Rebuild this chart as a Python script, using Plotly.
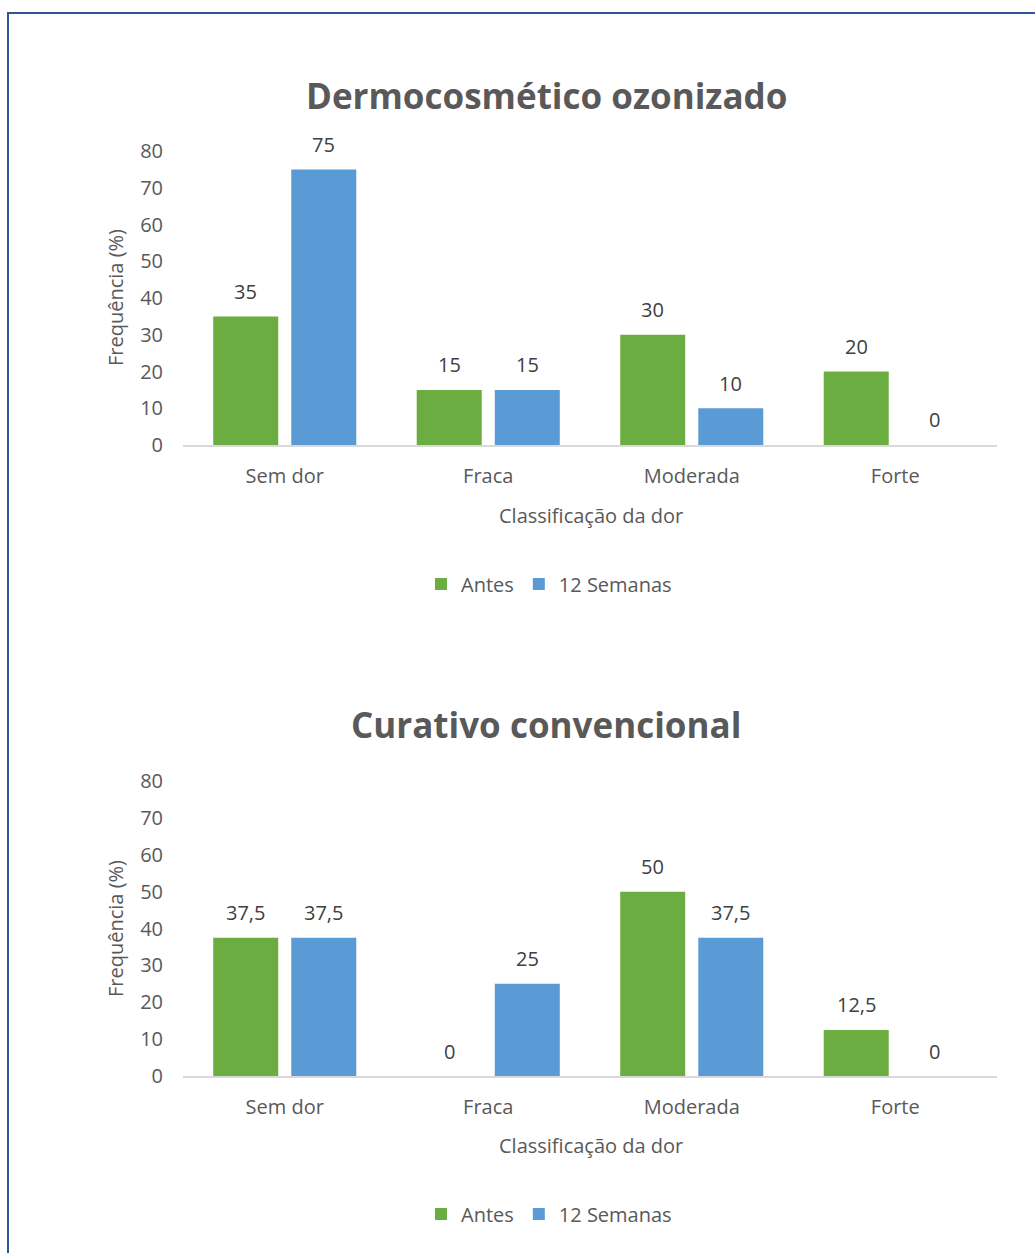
import plotly.graph_objects as go

categories = ["Sem dor", "Fraca", "Moderada", "Forte"]
series_names = ["Antes", "12 Semanas"]
top_antes = [35, 15, 30, 20]
top_12sem = [75, 15, 10, 0]
bot_antes = [37.5, 0, 50, 12.5]
bot_12sem = [37.5, 25, 37.5, 0]
titles = ["Dermocosmético ozonizado", "Curativo convencional"]
y_ticks = [0, 10, 20, 30, 40, 50, 60, 70, 80]

W, H = 1035, 1253
GREEN = "#6cad41"
BLUE = "#5b9bd5"
GREY = "#595959"
FONT = "Open Sans"
FS = 20

def fmt(v):
    s = ("%g" % v)
    return s.replace(".", ",")

def px_x(p):
    return p / W

def px_y(p):
    return 1 - p / H

fig = go.Figure()

panels = [
    dict(antes=top_antes, sem=top_12sem, title=titles[0], y0=445, y80=151, title_y=95,
         xt_y=515, ytitle_y=298, leg_y=584, xa="x", ya="y", legend="legend"),
    dict(antes=bot_antes, sem=bot_12sem, title=titles[1], y0=1076, y80=781, title_y=724,
         xt_y=1145, ytitle_y=929, leg_y=1214, xa="x2", ya="y2", legend="legend2"),
]

x_left, x_right = 183, 997
bargap = 0.233
bargroupgap = 0.167
cat_px = (x_right - x_left) / len(categories)
slot_px = cat_px * (1 - bargap) / 2

annotations = []
for i, p in enumerate(panels):
    for k, (name, vals, col) in enumerate([(series_names[0], p["antes"], GREEN),
                                           (series_names[1], p["sem"], BLUE)]):
        fig.add_trace(go.Bar(
            x=categories, y=vals, name=name, marker=dict(color=col, line=dict(width=0)),
            xaxis=p["xa"], yaxis=p["ya"], legend=p["legend"], hoverinfo="skip",
        ))
        for c, v in zip(categories, vals):
            annotations.append(dict(
                x=c, y=v, xref=p["xa"], yref=p["ya"], text=fmt(v), showarrow=False,
                xshift=(k - 0.5) * slot_px, yshift=25,
                font=dict(family=FONT, size=FS, color="#404040"),
            ))
    annotations.append(dict(
        x=px_x(546), y=px_y(p["title_y"]), xref="paper", yref="paper", text="<b>%s</b>" % p["title"],
        showarrow=False, font=dict(family=FONT, size=35, color=GREY), xanchor="center", yanchor="middle"))
    annotations.append(dict(
        x=px_x(591), y=px_y(p["xt_y"]), xref="paper", yref="paper", text="Classificação da dor",
        showarrow=False, font=dict(family=FONT, size=FS, color=GREY), xanchor="center", yanchor="middle"))
    annotations.append(dict(
        x=px_x(115), y=px_y(p["ytitle_y"]), xref="paper", yref="paper", text="Frequência (%)",
        textangle=-90, showarrow=False, font=dict(family=FONT, size=FS, color=GREY),
        xanchor="center", yanchor="middle"))

common_x = dict(showgrid=False, showline=True, linecolor="#d9d9d9", linewidth=1.5,
                tickfont=dict(family=FONT, size=FS, color=GREY), ticks="", ticklabelstandoff=12,
                zeroline=False, automargin=False)
common_y = dict(showgrid=False, showline=False, zeroline=False, range=[0, 80], tickvals=y_ticks,
                tickfont=dict(family=FONT, size=FS, color=GREY), ticks="", ticklabelstandoff=19,
                automargin=False)

layout_kwargs = {}
for i, p in enumerate(panels):
    sx = "" if i == 0 else "2"
    layout_kwargs["xaxis" + sx] = dict(common_x, domain=[px_x(x_left), px_x(x_right)],
                                       anchor="y" + sx)
    layout_kwargs["yaxis" + sx] = dict(common_y, domain=[px_y(p["y0"]), px_y(p["y80"])],
                                       anchor="x" + sx)
    layout_kwargs["legend" + sx] = dict(orientation="h", x=px_x(549), y=px_y(p["leg_y"]),
                                        xanchor="center", yanchor="middle",
                                        font=dict(family=FONT, size=FS, color=GREY),
                                        itemwidth=30, bgcolor="rgba(0,0,0,0)")

fig.update_layout(
    width=W, height=H, margin=dict(l=0, r=0, t=0, b=0, pad=0, autoexpand=False),
    paper_bgcolor="white", plot_bgcolor="white",
    barmode="group", bargap=bargap, bargroupgap=bargroupgap,
    annotations=annotations, showlegend=True,
    shapes=[dict(type="rect", xref="paper", yref="paper", x0=px_x(8), x1=1.05,
                 y0=-0.05, y1=px_y(13), line=dict(color="#2f5597", width=2), layer="below")],
    **layout_kwargs,
)

fig.write_html("out.html")
